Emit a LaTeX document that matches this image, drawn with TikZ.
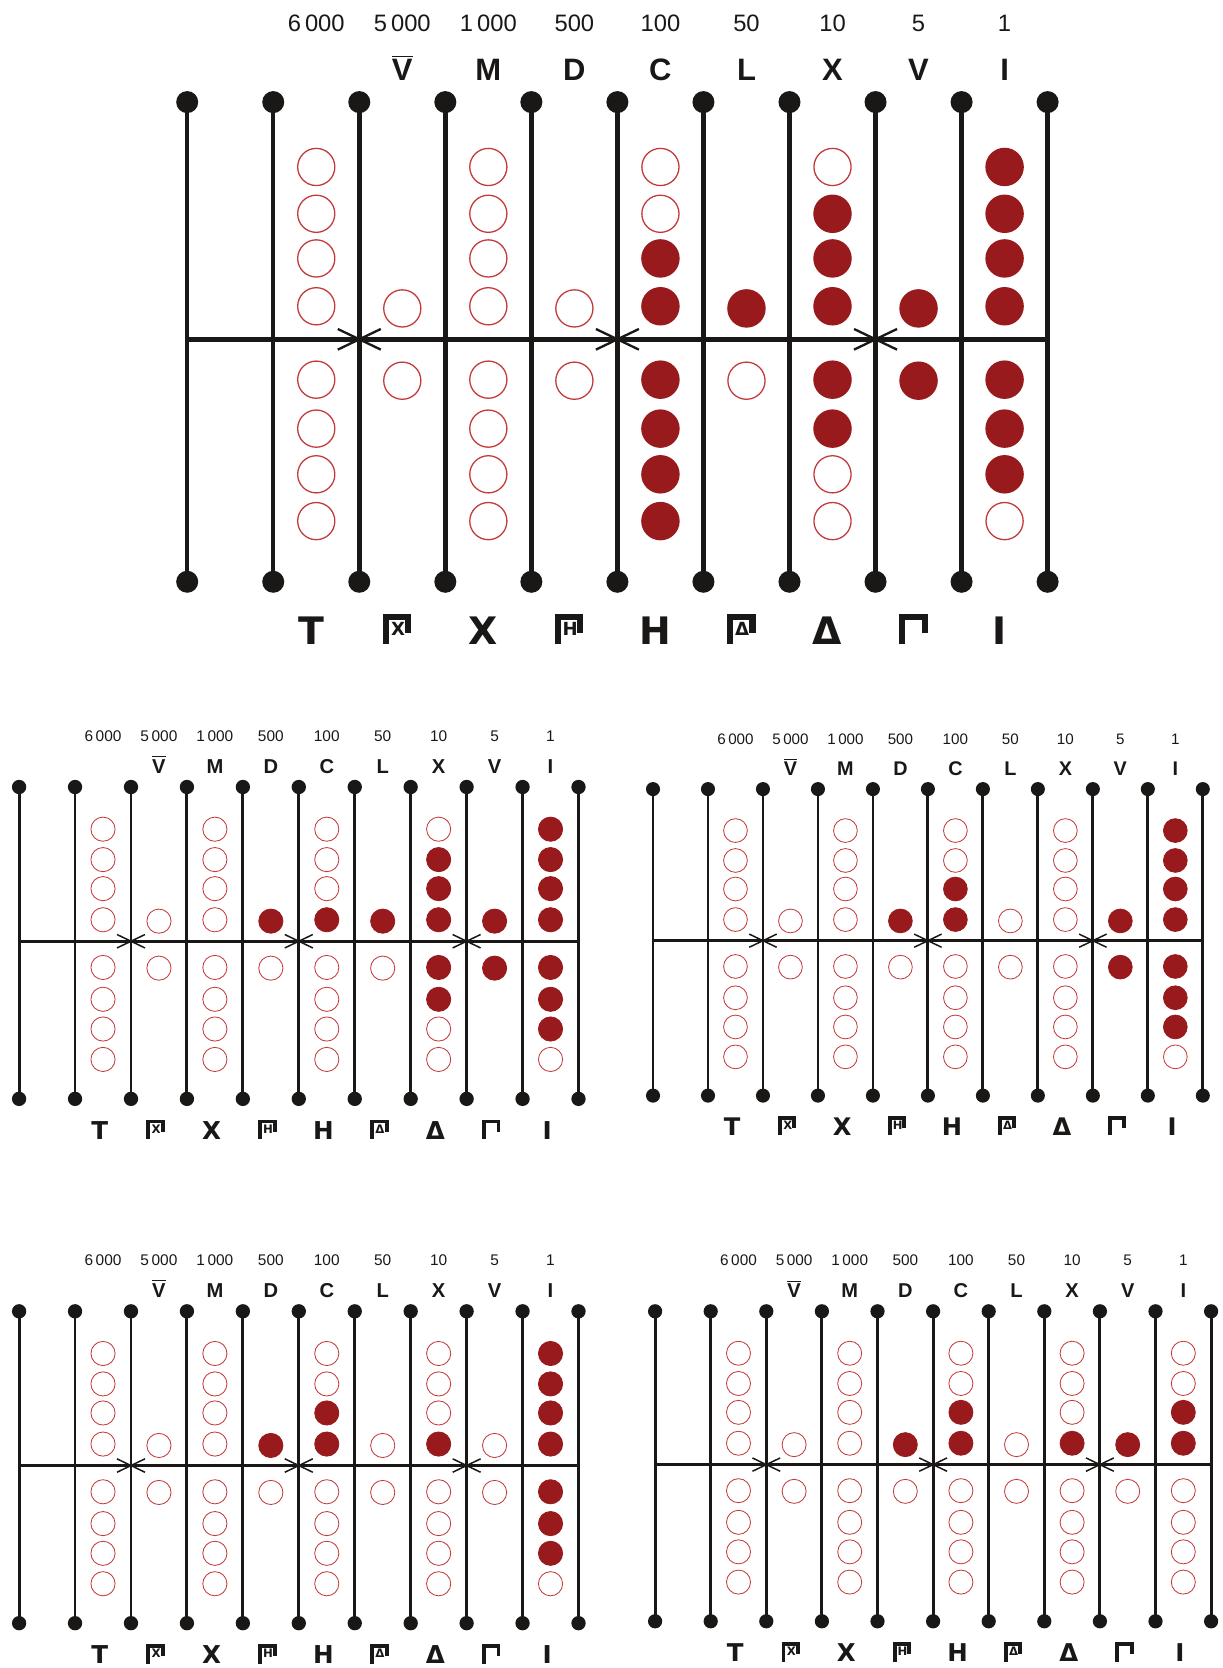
\documentclass[tikz,border=0pt]{standalone}
\usepackage{fontspec}
\setmainfont{Liberation Sans}
\newfontfamily\greekfont{DejaVu Sans}
\usetikzlibrary{calc}

\definecolor{beadred}{RGB}{152,26,28}
\definecolor{beadline}{RGB}{196,58,58}
\definecolor{rodblack}{RGB}{26,24,22}

% one counting board: name, left rod x, top knob y, rod spacing (px), upper/lower beads per column
\newcommand{\abacus}[5]{%
  \pgfmathsetmacro{\abu}{#4*0.5}%
  \pgfmathsetmacro{\rodw}{0.052*\abu}%
  \pgfmathsetmacro{\thinw}{0.015*\abu}%
  \pgfmathsetmacro{\crossw}{0.027*\abu}%
  \pgfmathsetmacro{\glyw}{0.07*\abu}%
  \pgfmathsetmacro{\numfs}{0.276*\abu}%
  \pgfmathsetmacro{\romfs}{0.36*\abu}%
  \pgfmathsetmacro{\glyfs}{0.44*\abu}%
  \pgfmathsetmacro{\inrfs}{0.21*\abu}%
  \begin{scope}[shift={(#2,#3)}, x=\abu pt, y=-\abu pt]
    % rods and knobs
    \foreach \i in {0,...,10} {
      \draw[rod] (\i,0) -- (\i,5.575);
      \fill[knob] (\i,0) circle (0.128) (\i,5.575) circle (0.128);
    }
    % bar with crossings
    \draw[rod] (0,2.757) -- (10,2.757);
    \foreach \i in {2,5,8}
      \draw[crossmark] (\i-0.25,2.637) -- (\i+0.25,2.877) (\i-0.25,2.877) -- (\i+0.25,2.637);
    % beads
    \foreach \uu/\ll [count=\c] in {#5} {
      \ifodd\c
        \foreach \rw/\yy in {1/0.754,2/1.298,3/1.817,4/2.373} {
          \ifnum\rw>\numexpr4-\uu\relax \def\fcol{beadred}\def\bcol{beadred}\else\def\fcol{white}\def\bcol{beadline}\fi
          \path[bead, draw=\bcol, fill=\fcol] (\c+0.5,\yy) circle (0.216);
        }
        \foreach \rw/\yy in {1/3.226,2/3.795,3/4.326,4/4.870} {
          \ifnum\rw>\ll\relax \def\fcol{white}\def\bcol{beadline}\else\def\fcol{beadred}\def\bcol{beadred}\fi
          \path[bead, draw=\bcol, fill=\fcol] (\c+0.5,\yy) circle (0.216);
        }
      \else
        \ifnum\uu>0 \def\fcol{beadred}\def\bcol{beadred}\else\def\fcol{white}\def\bcol{beadline}\fi
        \path[bead, draw=\bcol, fill=\fcol] (\c+0.5,2.398) circle (0.216);
        \ifnum\ll>0 \def\fcol{beadred}\def\bcol{beadred}\else\def\fcol{white}\def\bcol{beadline}\fi
        \path[bead, draw=\bcol, fill=\fcol] (\c+0.5,3.238) circle (0.216);
      \fi
    }
    % values and roman numerals
    \foreach \val [count=\c] in {6\,000, 5\,000, 1\,000, 500, 100, 50, 10, 5, 1}
      \node[numlab] (#1-num-\c) at (\c+0.5,-0.816) {\val};
    \foreach \rl [count=\c from 2] in {$\overline{\mbox{V}}$, M, D, C, L, X, V, I}
      \node[romlab] (#1-rom-\c) at (\c+0.5,-0.247) {\rl};
    % attic numerals
    \foreach \g/\k [count=\c] in {Τ/0, Χ/1, Χ/0, Η/1, Η/0, Δ/1, Δ/0, Γ/2, Ι/0} {
      \ifnum\k=0
        \node[glyph] (#1-gly-\c) at (\c+0.44,6.30) {\g};
      \else
        \draw[glyphline] (\c+0.31,6.30) -- (\c+0.31,5.98) -- (\c+0.57,5.98) -- (\c+0.57,6.17);
        \ifnum\k=1 \node[glyphin] (#1-gly-\c) at (\c+0.45,6.12) {\g};\fi
      \fi
    }
  \end{scope}}

\begin{document}
\begin{tikzpicture}[x=0.5pt, y=-0.5pt,
  rod/.style={draw=rodblack, line width=\rodw pt},
  knob/.style={fill=rodblack},
  crossmark/.style={draw=rodblack, line width=\crossw pt},
  bead/.style={line width=\thinw pt},
  numlab/.style={font=\fontsize{\numfs pt}{\numfs pt}\selectfont, inner sep=0pt, anchor=base, text=rodblack},
  romlab/.style={font=\fontsize{\romfs pt}{\romfs pt}\selectfont\bfseries, inner sep=0pt, anchor=base, text=rodblack},
  glyph/.style={font=\greekfont\fontsize{\glyfs pt}{\glyfs pt}\selectfont\bfseries, inner sep=0pt, anchor=base, text=rodblack},
  glyphin/.style={font=\greekfont\fontsize{\inrfs pt}{\inrfs pt}\selectfont\bfseries, inner sep=0pt, text=rodblack},
  glyphline/.style={draw=rodblack, line width=\glyw pt},
]
\useasboundingbox (0,0) rectangle (1222,1668);

% large board
\abacus{big}{187.2}{102.1}{86.04}{0/0,0/0,0/0,0/0,2/4,1/0,3/2,1/1,4/3}

% four smaller boards
\abacus{ml}{19.1}{787.0}{55.94}{0/0,0/0,0/0,1/0,1/0,1/0,3/2,1/1,4/3}
\abacus{mr}{653.0}{789.1}{54.98}{0/0,0/0,0/0,1/0,2/0,0/0,0/0,1/1,4/3}
\abacus{bl}{19.1}{1311.3}{55.94}{0/0,0/0,0/0,1/0,2/0,0/0,1/0,0/0,4/3}
\abacus{br}{655.1}{1311.3}{55.6}{0/0,0/0,0/0,1/0,2/0,0/0,1/0,1/0,2/0}

\end{tikzpicture}
\end{document}
